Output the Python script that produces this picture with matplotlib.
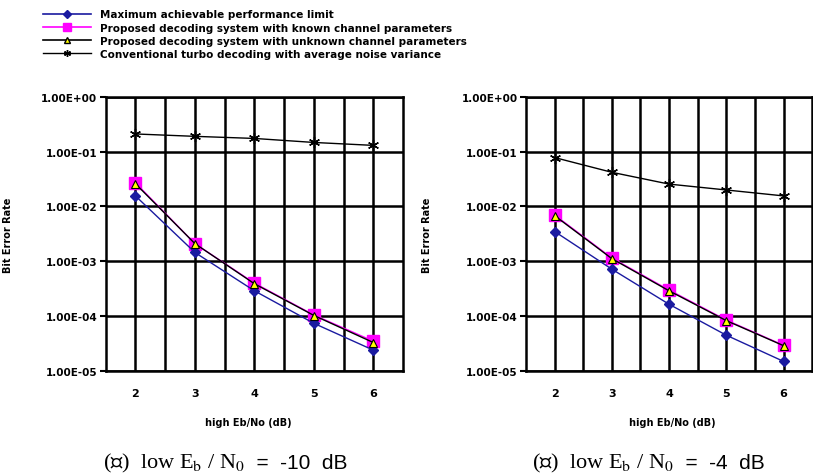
import matplotlib.pyplot as plt
from matplotlib.lines import Line2D
from matplotlib import font_manager
from matplotlib.ft2font import FT2Font

plt.rcParams['mathtext.fontset'] = 'stix'

snr = [2, 3, 4, 5, 6]

# (a) low Eb/N0 = -10 dB
a_limit = [1.56e-2, 1.45e-3, 2.9e-4, 7.4e-5, 2.4e-5]
a_known = [2.7e-2, 2.1e-3, 4.0e-4, 1.05e-4, 3.5e-5]
a_unknown = [2.6e-2, 2.1e-3, 3.9e-4, 1.03e-4, 3.3e-5]
a_conv = [2.1e-1, 1.9e-1, 1.74e-1, 1.47e-1, 1.3e-1]

# (b) low Eb/N0 = -4 dB
b_limit = [3.5e-3, 7.2e-4, 1.65e-4, 4.5e-5, 1.5e-5]
b_known = [7.0e-3, 1.15e-3, 3.0e-4, 8.5e-5, 2.95e-5]
b_unknown = [6.8e-3, 1.12e-3, 2.9e-4, 8.3e-5, 2.9e-5]
b_conv = [7.8e-2, 4.2e-2, 2.56e-2, 2.0e-2, 1.56e-2]

legend_labels = ['Maximum achievable performance limit',
                 'Proposed decoding system with known channel parameters',
                 'Proposed decoding system with unknown channel parameters',
                 'Conventional turbo decoding with average noise variance']
ytick_vals = [1e0, 1e-1, 1e-2, 1e-3, 1e-4, 1e-5]
ytick_labels = ['1.00E+00', '1.00E-01', '1.00E-02', '1.00E-03', '1.00E-04', '1.00E-05']
cap_left = ['(ก)  low E$_\\mathrm{b}$ / N$_0$', '(ข)  low E$_\\mathrm{b}$ / N$_0$']
cap_right = ['  =  -10  dB', '  =  -4  dB']

# look for an installed font that has Thai letters
thai = []
for f in font_manager.fontManager.ttflist:
    try:
        if 0x0E01 in FT2Font(f.fname).get_charmap() and f.name not in thai:
            thai.append(f.name)
    except Exception:
        pass
serif_fam = ['Liberation Serif'] + thai + ['DejaVu Sans']

fig = plt.figure(figsize=(8.13, 4.77), dpi=100)
ax1 = fig.add_axes([0.130, 0.220, 0.366, 0.575])
ax2 = fig.add_axes([0.647, 0.220, 0.352, 0.575])


def draw(ax, lim, known, unknown, conv, ylab_x, xlab_x):
    ax.plot(snr, known, color='#ff00ff', lw=1, marker='s', ms=8,
            mfc='#ff00ff', mec='#ff00ff', zorder=3)
    ax.plot(snr, lim, color='#1a1aa0', lw=1, marker='D', ms=5,
            mfc='#1a1aa0', mec='#1a1aa0', zorder=4)
    ax.plot(snr, unknown, color='black', lw=1, marker='^', ms=6,
            mfc='#ffff00', mec='black', mew=0.8, zorder=5)
    ax.plot(snr, conv, color='black', lw=1, marker=(6, 2, 0), ms=8,
            mec='black', mew=1, zorder=5)
    ax.set_yscale('log')
    ax.set_ylim(1e-5, 1e0)
    ax.set_xlim(1.5, 6.5)
    for x in [2, 2.5, 3, 3.5, 4, 4.5, 5, 5.5, 6]:
        ax.axvline(x, color='black', lw=1.8, zorder=1)
    for y in ytick_vals:
        ax.axhline(y, color='black', lw=1.8, zorder=1)
    ax.set_yticks(ytick_vals)
    ax.set_yticklabels(ytick_labels, fontsize=7.5, fontweight='bold')
    ax.minorticks_off()
    ax.set_xticks(snr)
    ax.set_xticklabels([str(s) for s in snr], fontsize=8, fontweight='bold')
    ax.tick_params(axis='x', length=0, pad=12)
    ax.tick_params(axis='y', length=4, width=1.5, pad=2)
    for s in ax.spines.values():
        s.set_linewidth(1.8)
    ax.set_ylabel('Bit Error Rate', fontsize=7, fontweight='bold')
    ax.yaxis.set_label_coords(ylab_x, 0.5)
    ax.set_xlabel('high Eb/No (dB)', fontsize=7, fontweight='bold')
    ax.xaxis.set_label_coords(xlab_x, -0.168)


draw(ax1, a_limit, a_known, a_unknown, a_conv, -0.313, 0.48)
draw(ax2, b_limit, b_known, b_unknown, b_conv, -0.328, 0.51)

handles = [
    Line2D([], [], color='#1a1aa0', lw=1.2, marker='D', ms=4, mfc='#1a1aa0'),
    Line2D([], [], color='#ff00ff', lw=1.2, marker='s', ms=6, mfc='#ff00ff'),
    Line2D([], [], color='black', lw=1.2, marker='^', ms=5, mfc='#ffff00', mec='black'),
    Line2D([], [], color='black', lw=1, marker=(6, 2, 0), ms=5, mec='black'),
]
fig.legend(handles, legend_labels, loc='upper left', bbox_to_anchor=(0.04, 1.0),
           frameon=False, prop={'size': 7.5, 'weight': 'bold'}, handlelength=4.6,
           labelspacing=0.3, handletextpad=0.9, borderaxespad=0.6)

# captions: serif part then sans part on the same baseline
base_y = 0.017
caps = []
for cx, cl in [(0.127, cap_left[0]), (0.654, cap_left[1])]:
    caps.append(fig.text(cx, base_y, cl, ha='left', va='baseline', fontsize=16,
                         family=serif_fam))
fig.canvas.draw()
inv = fig.transFigure.inverted()
for t, cr in zip(caps, cap_right):
    bb = t.get_window_extent()
    x1 = inv.transform((bb.x1, bb.y0))[0]
    fig.text(x1, base_y, cr, ha='left', va='baseline', fontsize=15,
             family=['Liberation Sans', 'DejaVu Sans'])

fig.savefig('out.png', dpi=100, facecolor='white')
